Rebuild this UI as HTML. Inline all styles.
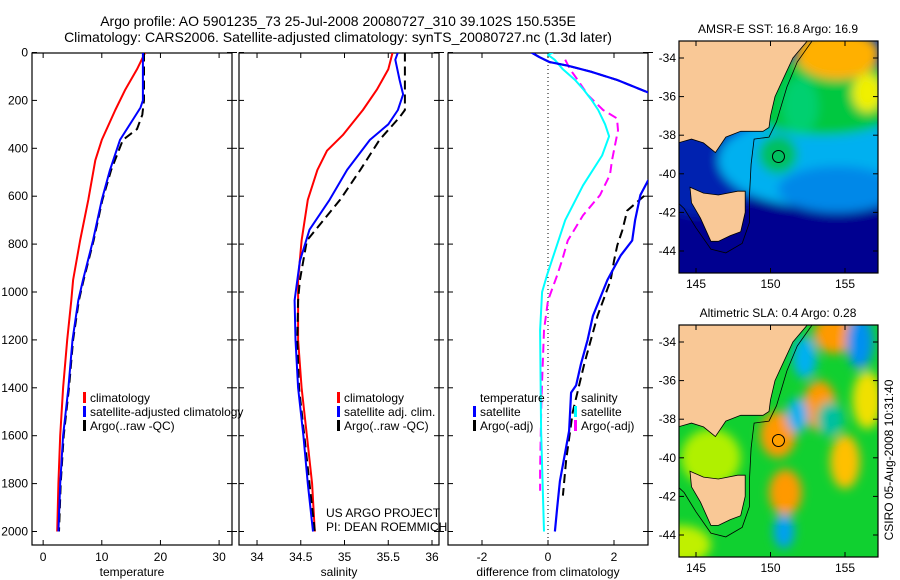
<!DOCTYPE html>
<html><head><meta charset="utf-8">
<style>
html,body{margin:0;padding:0;background:#fff;}
svg{display:block;font-family:"Liberation Sans",sans-serif;}
text{fill:#000;}
</style></head>
<body>
<svg id="chart" width="900" height="580" viewBox="0 0 900 580" xmlns="http://www.w3.org/2000/svg">
<defs>
<clipPath id="cp1"><rect x="32" y="53" width="200" height="492"/></clipPath>
<clipPath id="cp2"><rect x="239" y="53" width="200" height="492"/></clipPath>
<clipPath id="cp3"><rect x="448" y="53" width="200" height="492"/></clipPath>
<clipPath id="cm1"><rect x="679" y="41" width="199" height="232"/></clipPath>
<clipPath id="cm2"><rect x="679" y="325" width="199" height="232"/></clipPath>
<filter id="bl" x="-50%" y="-50%" width="200%" height="200%"><feGaussianBlur stdDeviation="5"/></filter>
</defs>
<g>
<text x="338" y="26" font-size="14" text-anchor="middle">Argo profile: AO 5901235_73 25-Jul-2008 20080727_310 39.102S 150.535E</text>
<text x="338" y="42" font-size="14" text-anchor="middle">Climatology: CARS2006. Satellite-adjusted climatology: synTS_20080727.nc (1.3d later)</text>
</g>
<g id="plots"></g>
<g id="maps"></g>
<text x="893" y="460" font-size="12" text-anchor="middle" transform="rotate(-90 893 460)">CSIRO 05-Aug-2008 10:31:40</text>
</svg>
<script>
// ---- data ----
const depthTicks = [0,200,400,600,800,1000,1200,1400,1600,1800,2000];
const tempTicks = [0,10,20,30];
const salTicks = [34,34.5,35,35.5,36];
const salTickLabels = ["34","34.5","35","35.5","36"];
const diffTicks = [-2,0,2];

const tClimD = [0,70,155,240,365,450,615,785,950,1035,1200,1400,1600,1800,2000];
const tClimV = [17.4,16.0,14.0,12.3,10.0,8.9,7.7,6.3,5.1,4.8,4.1,3.4,2.9,2.6,2.4];
const tSatD = [0,100,200,230,280,365,490,615,785,950,1035,1200,1400,1600,1800,2000];
const tSatV = [17.0,17.0,17.0,16.6,15.3,13.1,11.4,10.0,8.5,6.8,6.0,5.0,4.3,3.4,2.9,2.6];
const tArgoD = [0,100,200,260,320,365,490,615,785,950,1035,1200,1400,1600,1800,2000];
const tArgoV = [17.2,17.2,17.2,16.9,16.0,13.6,11.6,10.1,8.6,6.9,6.1,5.1,4.4,3.5,3.0,2.7];

const sClimD = [0,70,155,240,345,410,490,615,785,950,1200,1400,1600,1800,2000];
const sClimV = [35.55,35.5,35.37,35.21,34.98,34.8,34.69,34.58,34.51,34.47,34.47,34.51,34.57,34.63,34.66];
const sSatD = [0,30,115,175,240,300,365,490,615,740,870,1035,1200,1400,1600,1800,2000];
const sSatV = [35.61,35.58,35.63,35.67,35.61,35.5,35.29,35.03,34.83,34.6,34.49,34.43,34.44,34.47,34.53,34.58,34.64];
const sArgoD = [0,100,240,270,365,490,615,785,950,1035,1200,1400,1600,1800,2000];
const sArgoV = [35.69,35.69,35.69,35.63,35.4,35.18,34.95,34.57,34.49,34.47,34.46,34.48,34.54,34.6,34.66];

const dTSatD = [0,20,40,55,80,115,165,200,300,400,500,535,595,700,785,848,950,1100,1200,1300,1390,1420,1580,1790,1900,2000];
const dTSatV = [-0.5,-0.25,0.05,0.6,1.3,2.1,3.0,3.6,4.5,4.5,3.6,3.03,2.8,2.64,2.55,2.2,1.8,1.36,1.2,1.0,0.85,0.7,0.64,0.36,0.28,0.21];
const dTArgoD = [0,20,40,55,80,115,165,200,300,400,500,585,660,743,805,870,950,1100,1300,1500,1700,1850];
const dTArgoV = [-0.5,-0.25,0.05,0.6,1.3,2.1,3.0,3.6,4.5,4.6,3.6,3.03,2.4,2.25,2.1,2.0,1.9,1.5,1.1,0.75,0.55,0.45];
const dSSatD = [0,10,30,70,115,157,200,240,300,350,430,555,700,805,930,1000,1160,1580,2000];
const dSSatV = [0.15,0.0,0.2,0.45,0.82,1.09,1.33,1.52,1.73,1.85,1.64,1.06,0.52,0.27,-0.03,-0.18,-0.24,-0.21,-0.12];
const dSArgoD = [30,70,115,178,240,275,325,387,450,510,595,680,785,870,930,1035,1160,1450,1745,1830];
const dSArgoV = [0.52,0.67,0.9,1.21,1.67,2.09,2.12,2.03,1.94,1.88,1.58,1.06,0.6,0.42,0.28,0.0,-0.12,-0.2,-0.24,-0.24];

// ---- helpers ----
const NS = "http://www.w3.org/2000/svg";
function mk(tag, attrs, parent){const e=document.createElementNS(NS,tag);for(const k in attrs)e.setAttribute(k,attrs[k]);parent.appendChild(e);return e;}
const yTop=53, yBot=545;
function yScale(d){return 52.5 + d*0.2395;}
const panels = [
 {x0:32,x1:232,vmin:-1.9,vmax:32.2,clip:"cp1",name:"temperature-panel",xlabel:"temperature",ticks:tempTicks,tlabels:tempTicks.map(String)},
 {x0:239,x1:439,vmin:33.794,vmax:36.08,clip:"cp2",name:"salinity-panel",xlabel:"salinity",ticks:salTicks,tlabels:salTickLabels},
 {x0:448,x1:648,vmin:-3.03,vmax:3.03,clip:"cp3",name:"difference-panel",xlabel:"difference from climatology",ticks:diffTicks,tlabels:diffTicks.map(String)}
];
function xs(p,v){return p.x0+(v-p.vmin)/(p.vmax-p.vmin)*(p.x1-p.x0);}

const root=document.getElementById('plots');
panels.forEach((p,i)=>{
  const g=mk('g',{},root);
  
  
  const fr=mk('rect',{x:p.x0,y:yTop,width:p.x1-p.x0,height:yBot-yTop,fill:'#fff',stroke:'#000','stroke-width':1.2},g);
  
  
  depthTicks.forEach(d=>{
    const y=yScale(d);
    mk('line',{x1:p.x0,x2:p.x0+5,y1:y,y2:y,stroke:'#000'},g);
    mk('line',{x1:p.x1-5,x2:p.x1,y1:y,y2:y,stroke:'#000'},g);
    mk('line',{x1:p.x1,x2:p.x1+5,y1:y,y2:y,stroke:'#000'},g);
    if(i===0){const t=mk('text',{x:p.x0-4,y:y+4,'font-size':12,'text-anchor':'end'},g);t.textContent=d;
      
      }
  });
  p.ticks.forEach((v,k)=>{
    const x=xs(p,v);
    mk('line',{x1:x,x2:x,y1:yTop,y2:yTop+5,stroke:'#000'},g);
    mk('line',{x1:x,x2:x,y1:yBot-5,y2:yBot,stroke:'#000'},g);
    const t=mk('text',{x:x,y:561,'font-size':12,'text-anchor':'middle'},g);t.textContent=p.tlabels[k];
    
    
  });
  const xl=mk('text',{x:(p.x0+p.x1)/2,y:576,'font-size':12,'text-anchor':'middle'},g);xl.textContent=p.xlabel;
  
  
});

function line(p,D,V,color,dash,name,w){
  const pts=D.map((d,k)=>xs(p,V[k]).toFixed(1)+','+yScale(d).toFixed(1)).join(' ');
  const a={points:pts,fill:'none',stroke:color,'stroke-width':w||2,'clip-path':'url(#'+p.clip+')','stroke-linejoin':'round'};
  if(dash)a['stroke-dasharray']=dash;
  const e=mk('polyline',a,root);
  
  
}
const P1=panels[0],P2=panels[1],P3=panels[2];
const zl=mk('line',{x1:xs(P3,0),x2:xs(P3,0),y1:yTop,y2:yBot,stroke:'#000','stroke-dasharray':'1,3','stroke-width':1},root);



line(P1,tClimD,tClimV,'#ff0000',null,'temp-climatology-line');
line(P1,tArgoD,tArgoV,'#000',"9,5",'temp-argo-line');
line(P1,tSatD,tSatV,'#0000ff',null,'temp-satellite-line');
line(P2,sClimD,sClimV,'#ff0000',null,'sal-climatology-line');
line(P2,sArgoD,sArgoV,'#000',"9,5",'sal-argo-line');
line(P2,sSatD,sSatV,'#0000ff',null,'sal-satellite-line');
line(P3,dSArgoD,dSArgoV,'#ff00ff',"9,5",'sal-argo-diff-line');
line(P3,dSSatD,dSSatV,'#00ffff',null,'sal-satellite-diff-line');
line(P3,dTArgoD,dTArgoV,'#000',"9,5",'temp-argo-diff-line');
line(P3,dTSatD,dTSatV,'#0000ff',null,'temp-satellite-diff-line',2.2);

function legend(items,x,y,name){
  const g=mk('g',{},root);
  
  
  items.forEach((it,k)=>{
    const yy=y+k*14;
    if(it[1]) mk('rect',{x:x,y:yy-10,width:3,height:11,fill:it[1]},g);
    const t=mk('text',{x:x+7,y:yy,'font-size':12},g);t.textContent=it[0];
  });
}
legend([["climatology","#ff0000"],["satellite-adjusted climatology","#0000ff"],["Argo(..raw -QC)","#000"]],83,402,'temp-legend');
legend([["climatology","#ff0000"],["satellite adj. clim.","#0000ff"],["Argo(..raw -QC)","#000"]],337,402,'sal-legend');
legend([["temperature",null],["satellite","#0000ff"],["Argo(-adj)","#000"]],473,402,'diff-temp-legend');
legend([["salinity",null],["satellite","#00ffff"],["Argo(-adj)","#ff00ff"]],574,402,'diff-sal-legend');
const pr=mk('text',{x:326,y:517,'font-size':12},root);pr.textContent="US ARGO PROJECT";


const pi=mk('text',{x:326,y:531,'font-size':12},root);pi.textContent="PI: DEAN ROEMMICH";



// ---- maps ----
const mapsG=document.getElementById('maps');
function mlon(l){return 696+14.9*(l-145);}
function mlat(l,oy){return oy+19.3*(-34-l);}
const mainland=[[152.6,-33],[151.5,-34],[150.9,-35],[150.3,-36],[150,-37],[149.9,-37.6],[149.5,-37.8],[148,-37.8],[147,-38.1],[146.3,-38.9],[145.5,-38.4],[144.7,-38.2],[143.8,-38.4],[143.8,-33]];
const tas=[[144.6,-40.7],[145.5,-41],[146.5,-41.1],[147.8,-40.9],[148.3,-40.9],[148.3,-42],[148,-43],[147.3,-43.2],[146.5,-43.5],[146,-43.5],[145.3,-42.3],[144.7,-41.5]];
const shelf=[[152.9,-33],[151.8,-34.2],[151.1,-35.5],[150.4,-37.3],[149.9,-38.1],[148.9,-38.2],[148.7,-39.5],[148.6,-41],[148.6,-42.5],[148.1,-43.6],[147,-44.1],[146,-43.9],[145,-42.8],[144.2,-41.8],[143.8,-41.5]];
function poly(arr,oy){return arr.map(p=>mlon(p[0]).toFixed(1)+','+mlat(p[1],oy).toFixed(1)).join(' ');}

const sstBlobs=[[150.5,-44,9,4,'#000090'],[145.5,-40,4,2.2,'#0020b0'],[153,-39.3,6.5,2.4,'#00b0f0'],[154.5,-40.8,4,1.2,'#0088e8'],[150.5,-39,1.3,1,'#00c060'],[153.5,-36,6,2,'#00c840'],[154.5,-33.8,2.8,1.3,'#ffb000'],[156.5,-35.8,1,1,'#f0f000'],[152,-36.5,1.2,1.5,'#00d070']];
const slaBlobs=[[150.5,-38.8,1.2,1.2,'#ff9900'],[153.3,-37.3,1.1,1.3,'#ff9900'],[151,-41.8,1.1,1.2,'#ff9900'],[154.3,-33.6,1.4,1,'#ff9900'],[155,-40.2,1,1.4,'#ffc000'],[151.8,-37.8,0.7,0.9,'#00b0f0'],[152.3,-34.8,0.8,1.1,'#00b0f0'],[156,-34,0.9,1.4,'#0090f0'],[150.9,-43.8,0.7,0.9,'#00a0f0'],[154,-38,0.9,0.9,'#00c0a0'],[146,-40,2,1.5,'#b0f000'],[144,-44.5,2,1,'#c0f000'],[156.5,-37,1,1.5,'#f0e000']];

function drawMap(oy,clip,bg,blobs,title,name,circleFill){
  const g=mk('g',{},mapsG);
  
  
  const c=mk('g',{'clip-path':'url(#'+clip+')'},g);
  mk('rect',{x:679,y:oy-17,width:199,height:232,fill:bg},c);
  const b=mk('g',{filter:'url(#bl)'},c);
  blobs.forEach(d=>{mk('ellipse',{cx:mlon(d[0]),cy:mlat(d[1],oy),rx:d[2]*14.9,ry:d[3]*19.3,fill:d[4]},b);});
  mk('polyline',{points:poly(shelf,oy),fill:'none',stroke:'#000','stroke-width':0.8},c);
  const land=mk('polygon',{points:poly(mainland,oy),fill:'#f9c896',stroke:'#000','stroke-width':0.8},c);
  
  
  const t=mk('polygon',{points:poly(tas,oy),fill:'#f9c896',stroke:'#000','stroke-width':0.8},c);
  
  
  const m=mk('circle',{cx:mlon(150.535),cy:mlat(-39.102,oy),r:6,fill:circleFill,stroke:'#000','stroke-width':1},c);
  
  
  mk('rect',{x:679,y:oy-17,width:199,height:232,fill:'none',stroke:'#000','stroke-width':1.2},g);
  [-34,-36,-38,-40,-42,-44].forEach(l=>{
    const y=mlat(l,oy);
    mk('line',{x1:679,x2:684,y1:y,y2:y,stroke:'#000'},g);
    mk('line',{x1:873,x2:878,y1:y,y2:y,stroke:'#000'},g);
    const tt=mk('text',{x:676,y:y+4,'font-size':12,'text-anchor':'end'},g);tt.textContent=l;
  });
  [145,150,155].forEach(l=>{
    const x=mlon(l);
    mk('line',{x1:x,x2:x,y1:oy-17,y2:oy-12,stroke:'#000'},g);
    mk('line',{x1:x,x2:x,y1:oy+210,y2:oy+215,stroke:'#000'},g);
    const tt=mk('text',{x:x,y:oy+230,'font-size':12,'text-anchor':'middle'},g);tt.textContent=l;
  });
  const tt=mk('text',{x:778,y:oy-25,'font-size':12,'text-anchor':'middle'},g);tt.textContent=title;
}
drawMap(58,'cm1','#0040c8',sstBlobs,'AMSR-E SST: 16.8 Argo: 16.9','sst-map','#00c060');
drawMap(342,'cm2','#10d030',slaBlobs,'Altimetric SLA: 0.4 Argo: 0.28','sla-map','#ffa000');
</script>
</body></html>
